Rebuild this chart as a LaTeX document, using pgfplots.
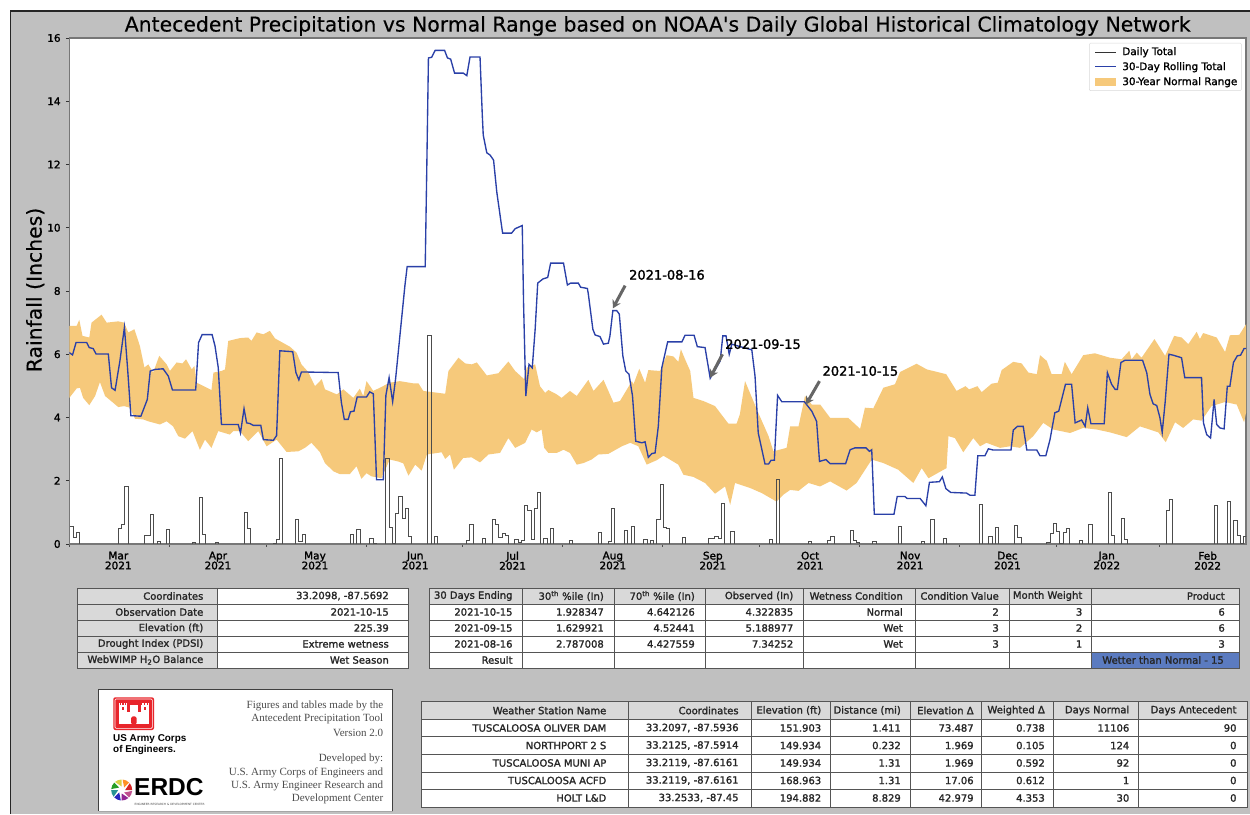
\documentclass[border=0pt]{standalone}
\usepackage{fontspec}
\usepackage{pgfplots}
\usepackage{pgfplotstable}
\pgfplotsset{compat=1.18}
\usetikzlibrary{arrows.meta}
\setmainfont{DejaVu Sans}
\newfontfamily\tf[FakeBold=1.6]{DejaVu Sans}
\newfontfamily\tits[FakeBold=0.3]{DejaVu Sans}
\newfontfamily\serif{Liberation Serif}
\newfontfamily\lib{Liberation Sans}
\definecolor{panel}{HTML}{C0C0C0}
\definecolor{band}{HTML}{F6C97B}
\definecolor{rollblue}{HTML}{2A40A8}
\definecolor{spine}{HTML}{777777}
\definecolor{hdr}{HTML}{D9D9D9}
\definecolor{grid}{HTML}{555555}
\definecolor{resultblue}{HTML}{5B7BC0}
\definecolor{usace}{HTML}{E8252B}

\pgfplotstableread{
d y
0 6.05
1.0 5.98
2.1 6.37
5.4 6.37
6.2 6.21
7.4 6.18
8.3 6.01
12.1 6.01
13.1 4.94
14.2 4.86
15.7 5.79
17.1 6.85
18.1 5.52
19.1 4.06
22.2 4.04
24.2 4.57
25.1 5.47
26.6 5.52
29.1 5.54
30.7 5.31
32.0 4.87
39.2 4.87
40.1 6.37
41.2 6.62
44.3 6.62
45.2 6.26
46.2 5.58
47.2 3.78
52.4 3.78
53.1 3.51
54.2 4.28
55.0 3.83
56.0 3.81
57.1 3.75
59.4 3.75
60.2 3.30
63.3 3.28
64.3 3.43
65.3 6.11
69.3 6.08
70.3 5.42
71.2 5.19
72.0 5.44
83.4 5.42
84.4 4.47
85.3 3.94
86.5 3.94
87.2 4.18
88.3 4.20
89.3 4.65
92.2 4.65
93.2 4.81
94.3 4.75
95.3 2.03
97.4 2.03
98.2 4.70
99.2 5.26
100.3 4.50
101.2 5.21
104.1 8.17
104.8 8.77
110.4 8.77
110.9 11.98
111.4 15.37
112.4 15.39
113.5 15.61
116.4 15.61
117.3 15.37
118.3 15.33
119.5 14.89
122.2 14.89
123.3 14.81
124.3 15.40
127.4 15.40
128.1 13.57
128.4 12.93
129.5 12.37
130.5 12.30
131.6 12.14
132.6 11.13
134.4 9.83
137.2 9.83
138.3 9.97
140.5 10.07
140.9 7.64
141.6 4.68
142.6 5.68
143.6 5.57
144.5 6.79
145.3 8.25
146.9 8.38
148.4 8.43
149.3 8.88
153.3 8.88
154.5 8.19
155.5 8.25
157.9 8.25
158.6 8.12
160.7 8.08
161.0 7.90
162.4 6.79
163.1 6.61
164.6 6.56
165.7 6.32
167.2 6.35
167.7 6.58
168.6 7.38
169.8 7.38
170.6 7.27
171.7 5.95
172.6 5.47
173.6 5.37
174.7 4.68
175.7 3.25
177.6 3.20
178.6 3.23
179.6 2.74
180.7 2.86
181.7 2.88
182.7 3.72
183.8 5.58
185.6 6.39
190.0 6.39
191.0 6.60
193.8 6.60
194.8 6.24
197.2 6.21
198.8 5.24
201.9 5.79
202.7 6.58
203.7 6.58
204.7 6.00
205.5 6.32
209.1 6.21
211.7 6.14
212.7 5.31
213.7 3.51
215.8 2.53
216.9 2.53
217.7 2.65
218.7 2.65
219.7 4.70
221.0 4.50
228.0 4.50
230.3 4.20
231.8 3.88
232.7 2.61
234.7 2.67
236.0 2.54
240.8 2.54
242.2 2.98
243.7 3.04
247.1 3.04
248.2 2.93
248.9 2.98
249.7 0.94
255.8 0.94
256.8 1.50
259.2 1.50
259.9 1.44
263.9 1.44
265.7 1.21
266.8 1.95
269.9 1.97
270.8 2.12
271.9 1.75
273.4 1.63
278.3 1.61
279.4 1.54
280.9 1.54
281.8 2.79
284.0 2.79
285.1 3.01
286.6 2.97
292.1 2.97
292.8 3.60
294.1 3.72
295.9 3.72
297.0 2.97
300.1 2.97
301.1 2.79
302.9 2.79
304.2 3.30
305.7 4.15
306.9 4.20
309.0 5.05
310.9 5.05
312.0 3.83
314.0 3.92
315.1 3.72
315.9 4.31
316.9 3.80
321.0 3.80
322.0 5.42
323.3 5.05
324.4 4.89
325.1 4.89
326.2 5.74
327.5 5.81
332.9 5.81
334.2 5.42
335.2 4.73
336.2 4.43
337.3 4.38
338.3 3.99
339.0 3.53
339.9 4.47
341.1 6.00
342.4 5.97
345.0 5.89
346.0 5.26
351.2 5.26
351.8 3.83
352.8 3.46
354.0 3.35
355.1 4.57
355.9 3.78
356.9 3.67
358.2 3.64
359.2 4.99
360.0 4.99
361.1 5.74
362.3 5.95
363.3 5.97
364.4 6.18
365 6.18
}\rollingtab

\pgfplotstableread{
d y
0 6.90
2.3 6.90
3.1 7.09
4.1 6.58
6.2 6.53
6.9 7.00
10 7.25
11.6 7.00
15.2 7.04
17 7.00
18.3 6.69
20.2 6.79
21.9 6.26
23.3 5.58
24.5 5.68
26 5.42
27.9 5.95
30.2 5.68
31.2 5.47
33.3 5.74
35.1 5.71
36.2 5.84
38 5.52
38.8 5.63
39.5 5.10
44.1 4.87
44.7 5.42
47.2 5.47
48.3 5.52
49.3 6.42
52.9 6.51
55.5 6.53
56.5 6.42
58.1 6.69
60.2 6.63
62.2 6.74
63.8 6.50
68.4 6.24
70.5 6.05
72 5.68
74.1 5.44
76.2 4.99
78.3 5.21
79.3 4.89
83 4.73
85 4.89
88.1 4.62
90.1 4.91
91.2 4.68
92.2 5.15
94.3 4.84
96.3 4.94
99.4 5.10
102.5 5.15
106.7 5.08
108.3 5.08
109.8 4.84
116.6 4.75
117.6 5.47
120.7 5.89
122.8 5.71
124.8 5.68
126.4 5.74
129.5 5.33
133.1 5.40
136.2 5.77
138.3 5.47
141.1 5.21
141.9 5.58
144.5 5.68
146 4.99
147.6 4.78
148.6 4.87
151.2 4.73
152.7 4.62
155.3 4.84
157.4 4.68
161 5.19
162.6 4.84
165.7 5.19
168.8 4.47
170.8 4.52
174.5 5.15
175 5.05
176.8 5.54
178.6 5.10
179.6 5.50
183.2 5.47
185.3 5.97
187.4 5.93
188.9 5.76
189.7 6.16
191 5.84
192.6 5.47
193.6 4.62
196.7 4.52
200.3 4.36
204.4 3.81
207 3.81
208 4.10
209.6 5.15
213.7 4.15
216.9 3.41
218.4 2.93
222.5 3.04
223.6 3.72
226.2 3.72
228.2 4.68
230.3 4.41
232.9 4.41
236 3.99
241.6 3.99
245.3 3.64
246.8 4.31
249.4 4.29
252.5 4.94
256.1 5.05
257.7 5.44
262.8 5.70
266 5.52
272 5.37
275.2 4.84
278 4.99
279.1 4.89
281.7 4.99
283 4.80
286.1 5.07
288 5.10
289.2 5.50
292.8 5.76
295.4 5.71
297.5 5.42
300.1 5.37
301.1 5.97
303.2 5.79
304.7 5.37
307.8 5.37
308.8 5.76
310.9 5.37
314.5 5.97
318.1 6.03
322.8 5.89
326.4 5.84
328.8 6.11
329.5 5.84
331.1 6.05
332.6 5.89
336.6 6.48
339.9 5.95
342.7 6.58
345 6.53
347.1 6.32
349.7 6.71
350.7 6.48
351.7 6.67
355.9 6.53
358.5 6.07
360 6.60
362.9 6.61
365 6.95
}\uppertab

\pgfplotstableread{
d y
0 4.62
2.3 4.92
3.3 4.94
4.3 4.62
6.2 4.39
8 4.68
9.5 5.12
11.1 4.68
15.2 4.33
17 4.36
18.8 4.31
20.4 3.96
22.9 3.94
24.5 3.88
28.1 3.78
30.2 3.88
32.2 3.72
33.8 3.41
35.9 3.33
38.2 3.57
40.5 2.98
42.1 3.30
44.1 3.04
46.2 3.57
49.8 3.46
50.9 3.57
52.9 3.57
55.5 3.25
58.6 3.57
61.2 3.09
64.3 3.30
67.4 2.91
71 2.93
73.1 3.04
75.1 3.20
77.7 2.91
79.3 2.56
81.9 2.30
83.9 2.21
87 2.21
89.1 2.46
90.6 2.06
92.2 2.24
93.7 2.14
96.8 2.08
99.4 2.67
102 2.61
103.6 2.55
105.2 2.16
107.3 2.51
109.3 2.32
110.9 2.83
115.5 2.90
116.6 2.69
118.1 2.83
119.3 2.35
122.2 2.72
124.8 2.74
127.4 2.58
130 2.83
133.6 2.88
136.2 3.35
138.3 3.04
141.4 3.20
143.4 3.62
145 3.53
146.5 3.62
147.3 3.04
148.6 2.88
151.2 2.88
153.3 2.98
155.3 2.88
157.4 2.51
159.5 2.56
162 2.67
164.1 2.83
167.2 2.85
171.4 3.09
174 3.20
176.5 3.09
179.1 2.51
182.2 2.65
184.3 2.79
186.3 2.67
188.9 2.51
190.5 2.19
193.6 2.12
197.2 1.93
200.3 1.59
203.4 1.82
205 1.24
206.5 1.93
211.2 1.77
214.8 1.61
219.4 1.34
221.5 1.56
223.6 1.71
226.2 1.68
229.3 1.93
232.85 1.82
236 1.98
241.1 1.69
244.2 1.93
248.9 2.67
252.5 2.56
257.1 2.35
261.8 1.93
264.4 2.40
266.5 2.08
272.1 2.40
272.7 3.41
274.7 3.35
277.3 2.90
280.4 3.35
282.5 3.09
284.5 3.20
288.7 3.04
291.8 3.09
294.9 3.04
299 3.41
302.1 3.83
305.2 3.62
310.4 3.51
314.5 3.67
318.7 3.62
322.8 3.53
328 3.38
332.1 3.72
337.8 3.53
340.1 3.22
343 3.85
345.5 3.67
348.6 3.94
351.2 3.90
354.3 4.36
358.5 4.49
362.1 4.41
364.4 3.85
365 4.15
}\lowertab

\pgfplotstablesort[sort key=d,sort cmp=float >]{\lowerrev}{\lowertab}
\pgfplotstablevertcat{\bandtab}{\uppertab}
\pgfplotstablevertcat{\bandtab}{\lowerrev}

\pgfplotstableread{
d y
0 .55
1 .21
2 .37
3 0
15 .5
16 .62
17 1.82
18 0
23 .26
25 .94
26 0
27 .07
28 0
30 .47
31 0
38 .05
39 0
40 1.48
41 .29
42 0
45 .04
46 0
54 1
55 .5
56 0
63 .02
64 .13
65 2.72
66 0
70 .79
71 .07
72 .29
73 0
87 .29
88 0
89 .47
90 0
93 .18
94 .02
95 0
98 2.72
99 .53
100 .02
101 .97
102 1.5
103 .81
104 1.13
105 .23
106 0
111 6.61
112 0
113 .23
114 0
123 .11
124 .62
125 0
128 .18
129 0
131 .79
132 .63
133 .2
134 .34
135 .26
136 0
138 .15
139 .05
140 .1
141 1.22
142 1.06
143 .13
144 1.13
145 1.64
146 0
147 .18
148 0
149 .5
150 0
155 .1
156 0
164 .36
165 0
167 .07
168 1.13
169 0
172 .44
173 0
174 .57
175 0
178 .15
179 0
180 .11
181 0
182 .79
183 1.89
184 .54
185 .48
186 0
190 .21
191 0
198 .18
199 .18
200 .25
201 .18
202 1.29
203 0
205 .39
206 0
217 .15
218 0
219 2.05
220 0
229 .07
230 0
235 .11
236 .23
237 0
242 .42
243 .11
244 .05
245 0
249 .07
250 0
257 .55
258 0
264 .07
265 0
267 .78
268 0
271 .19
272 0
282 1.24
283 0
285 .23
286 0
287 .53
288 0
293 .6
294 .21
295 0
303 .04
304 .32
305 .66
306 .39
307 .02
308 .37
309 .5
310 0
313 .11
314 0
316 .62
317 0
322 1.64
323 .26
324 0
326 .81
327 .13
328 0
340 1.06
341 1.41
342 0
355 1.22
356 0
359 1.34
360 0
361 .75
362 .26
363 .02
364 .23
365 .23
}\dailytab

% text helper: right-aligned at x, vertically centred at y (image pixels, y down)
\newcommand{\TT}[3]{\node[anchor=east,inner sep=0pt,font=\tf\fontsize{10}{12}\selectfont,text=black!85] at ({#1},{814-#2}) {#3};}
\newcommand{\Rct}[5]{\fill[#5] ({#1},{814-#2}) rectangle ({#3},{814-#4});}
\newcommand{\Outl}[4]{\draw[grid,line width=0.9pt] ({#1},{814-#2}) rectangle ({#3},{814-#4});}
\newcommand{\HLn}[3]{\draw[grid,line width=0.8pt] ({#1},{814-#3}) -- ({#2},{814-#3});}
\newcommand{\VLn}[3]{\draw[grid,line width=0.8pt] ({#1},{814-#2}) -- ({#1},{814-#3});}

\begin{document}
\begin{tikzpicture}
\useasboundingbox (0pt,0pt) rectangle (1250pt,814pt);
\fill[white] (0pt,0pt) rectangle (1250pt,814pt);
\fill[panel] (10pt,0pt) rectangle (1250pt,803pt);
\draw[black!85,line width=1.4pt] (10.5pt,0pt) -- (10.5pt,803pt) -- (1250pt,803pt);

\begin{axis}[
  at={(69.3pt,270pt)},anchor=south west,
  width=1176.7pt,height=506pt,scale only axis,
  xmin=0,xmax=365,ymin=0,ymax=16,
  axis background/.style={fill=white},
  axis line style={draw=spine,line width=1.1pt},
  xtick pos=bottom,ytick pos=left,tick align=outside,
  ytick={0,2,4,6,8,10,12,14,16},
  xtick={15.2,46.1,76.2,107.3,137.5,168.6,199.6,229.8,260.8,291,321.8,353.1},
  xticklabels={{Mar\\2021},{Apr\\2021},{May\\2021},{Jun\\2021},{Jul\\2021},{Aug\\2021},{Sep\\2021},{Oct\\2021},{Nov\\2021},{Dec\\2021},{Jan\\2022},{Feb\\2022}},
  minor xtick={0,31,61,92,122,153,184,214,245,276,306,338},
  major x tick style={draw=none},
  major y tick style={draw=black!80,line width=0.7pt},
  minor x tick style={draw=black!70,line width=0.6pt},
  major tick length=3.5pt,minor tick length=3pt,
  xticklabel style={align=center,font=\tf\fontsize{10.5}{10}\selectfont,inner sep=0pt,yshift=-4pt},
  yticklabel style={font=\tf\fontsize{10.5}{12}\selectfont,inner sep=0pt,xshift=-5pt},
  /pgf/number format/assume math mode=true,
  title={Antecedent Precipitation vs Normal Range based on NOAA's Daily Global Historical Climatology Network},
  title style={font=\tits\fontsize{20.4}{22}\selectfont,at={(0.5,1)},anchor=south,yshift=-7pt,inner sep=3pt},
  ylabel={Rainfall (Inches)},
  ylabel style={font=\tits\fontsize{20.4}{22}\selectfont,at={(axis description cs:-0.029,0.502)},anchor=center},
  legend style={at={(1,1)},anchor=north east,xshift=-4.5pt,yshift=-5pt,
    draw=black!15,fill=white,rounded corners=1pt,
    font=\tf\fontsize{10.4}{12}\selectfont,row sep=1.6pt,inner sep=2pt},
  legend cell align=left,
  legend image code/.code={\draw[#1] (0pt,0pt)--(21pt,0pt);},
]
\addplot[fill=band,draw=none,forget plot] table[x=d,y=y]{\bandtab} -- cycle;
\addplot[const plot mark left,black!70,line width=0.8pt,forget plot] table[x expr=\thisrow{d}+0.2,y=y]{\dailytab};
\addplot[rollblue,line width=1.35pt,forget plot] table[x=d,y=y]{\rollingtab};

\addlegendimage{black!80,line width=0.6pt}
\addlegendentry{Daily Total}
\addlegendimage{rollblue,line width=1.1pt}
\addlegendentry{30-Day Rolling Total}
\addlegendimage{band,line width=8pt}
\addlegendentry{30-Year Normal Range}

\draw[black!60,line width=3pt,-{Stealth[length=8pt,width=9pt]}] (axis cs:172.4,8.17) -- (axis cs:168.6,7.45);
\draw[black!60,line width=3pt,-{Stealth[length=8pt,width=9pt]}] (axis cs:202.6,6.00) -- (axis cs:198.8,5.26);
\draw[black!60,line width=3pt,-{Stealth[length=8pt,width=9pt]}] (axis cs:232.7,5.15) -- (axis cs:228.5,4.41);
\node[anchor=west,inner sep=0pt,font=\tf\fontsize{13}{15}\selectfont] at (axis cs:173.6,8.51) {2021-08-16};
\node[anchor=west,inner sep=0pt,font=\tf\fontsize{13}{15}\selectfont] at (axis cs:203.4,6.32) {2021-09-15};
\node[anchor=west,inner sep=0pt,font=\tf\fontsize{13}{15}\selectfont] at (axis cs:233.6,5.47) {2021-10-15};
\end{axis}

\begin{scope}[x=1pt,y=1pt]
% --- site table
\Rct{77}{588}{217}{668}{hdr}
\Rct{217}{588}{408}{668}{white}
\foreach \y in {604,620,636,652}{\HLn{77}{408}{\y}}
\VLn{217}{588}{668}
\Outl{77}{588}{408}{668}
\TT{203.5}{596}{Coordinates}\TT{389}{596}{33.2098, -87.5692}
\TT{203.5}{612}{Observation Date}\TT{389}{612}{2021-10-15}
\TT{203.5}{628}{Elevation (ft)}\TT{389}{628}{225.39}
\TT{203.5}{644}{Drought Index (PDSI)}\TT{389}{644}{Extreme wetness}
\TT{203.5}{660}{WebWIMP H\textsubscript{2}O Balance}\TT{389}{660}{Wet Season}

% --- condition table
\Rct{429}{588}{1239}{604}{hdr}
\Rct{429}{604}{1239}{668}{white}
\Rct{1091}{652}{1239}{668}{resultblue}
\foreach \y in {604,620,636,652}{\HLn{429}{1239}{\y}}
\foreach \x in {522,614,705.5,803,915,1009,1091}{\VLn{\x}{588}{668}}
\Outl{429}{588}{1239}{668}
\TT{512.7}{596}{30 Days Ending}\TT{604}{596}{30\textsuperscript{th} \%ile\,\,(In)}\TT{695}{596}{70\textsuperscript{th} \%ile\,\,(In)}\TT{793.5}{596}{Observed (In)}\TT{903}{596}{Wetness Condition}\TT{999}{596}{Condition Value}\TT{1082.5}{596}{Month Weight}\TT{1225}{596}{Product}
\TT{512.7}{612}{2021-10-15}\TT{604}{612}{1.928347}\TT{695}{612}{4.642126}\TT{793.5}{612}{4.322835}\TT{903}{612}{Normal}\TT{999}{612}{2}\TT{1082.5}{612}{3}\TT{1225}{612}{6}
\TT{512.7}{628}{2021-09-15}\TT{604}{628}{1.629921}\TT{695}{628}{4.52441}\TT{793.5}{628}{5.188977}\TT{903}{628}{Wet}\TT{999}{628}{3}\TT{1082.5}{628}{2}\TT{1225}{628}{6}
\TT{512.7}{644}{2021-08-16}\TT{604}{644}{2.787008}\TT{695}{644}{4.427559}\TT{793.5}{644}{7.34252}\TT{903}{644}{Wet}\TT{999}{644}{3}\TT{1082.5}{644}{1}\TT{1225}{644}{3}
\TT{512.7}{660}{Result}\TT{1224}{660}{Wetter than Normal - 15}

% --- station table
\Rct{421.6}{701.7}{1247}{719.3}{hdr}
\Rct{421.6}{719.3}{1247}{807.3}{white}
\foreach \y in {719.3,736.7,754.3,772,789.3}{\HLn{421.6}{1247}{\y}}
\foreach \x in {628,751.4,830,910,981.4,1053,1138.7}{\VLn{\x}{701.7}{807.3}}
\Outl{421.6}{701.7}{1247}{807.3}
\TT{606.5}{710.5}{Weather Station Name}\TT{738.8}{710.5}{Coordinates}\TT{821.4}{710.5}{Elevation (ft)}\TT{901}{710.5}{Distance (mi)}\TT{973.8}{710.5}{Elevation Δ}\TT{1045}{710.5}{Weighted Δ}\TT{1129.5}{710.5}{Days Normal}\TT{1236.7}{710.5}{Days Antecedent}
\TT{606.5}{728}{TUSCALOOSA OLIVER DAM}\TT{738.8}{728}{33.2097, -87.5936}\TT{821.4}{728}{151.903}\TT{901}{728}{1.411}\TT{973.8}{728}{73.487}\TT{1045}{728}{0.738}\TT{1129.5}{728}{11106}\TT{1236.7}{728}{90}
\TT{606.5}{745.5}{NORTHPORT 2 S}\TT{738.8}{745.5}{33.2125, -87.5914}\TT{821.4}{745.5}{149.934}\TT{901}{745.5}{0.232}\TT{973.8}{745.5}{1.969}\TT{1045}{745.5}{0.105}\TT{1129.5}{745.5}{124}\TT{1236.7}{745.5}{0}
\TT{606.5}{763}{TUSCALOOSA MUNI AP}\TT{738.8}{763}{33.2119, -87.6161}\TT{821.4}{763}{149.934}\TT{901}{763}{1.31}\TT{973.8}{763}{1.969}\TT{1045}{763}{0.592}\TT{1129.5}{763}{92}\TT{1236.7}{763}{0}
\TT{606.5}{780.5}{TUSCALOOSA ACFD}\TT{738.8}{780.5}{33.2119, -87.6161}\TT{821.4}{780.5}{168.963}\TT{901}{780.5}{1.31}\TT{973.8}{780.5}{17.06}\TT{1045}{780.5}{0.612}\TT{1129.5}{780.5}{1}\TT{1236.7}{780.5}{0}
\TT{606.5}{798}{HOLT L\&D}\TT{738.8}{798}{33.2533, -87.45}\TT{821.4}{798}{194.882}\TT{901}{798}{8.829}\TT{973.8}{798}{42.979}\TT{1045}{798}{4.353}\TT{1129.5}{798}{30}\TT{1236.7}{798}{0}

% --- credit box
\fill[white] (98.5,{814-811}) rectangle (392.5,{814-689.3});
\draw[black!75,line width=1.1pt] (98.5,{814-811}) -- (98.5,{814-689.3}) -- (392.5,{814-689.3}) -- (392.5,{814-811});
\draw[black!35,line width=1pt] (98.5,{814-811}) -- (392.5,{814-811});
\foreach \y/\s in {706/Figures and tables made by the,719.3/Antecedent Precipitation Tool,732.7/Version 2.0,759.3/Developed by:,772.7/U.S. Army Corps of Engineers and,786/U.S. Army Engineer Research and,799.3/Development Center}{
  \node[anchor=east,inner sep=0pt,text=black!70,font=\serif\fontsize{11}{13}\selectfont] at (383.4,{814-\y}) {\s};
}
% USACE castle
\fill[usace,rounded corners=2pt] (113.3,{814-730}) rectangle (154,{814-697.3});
\draw[white,line width=0.6pt,rounded corners=1pt] (115,{814-728.3}) rectangle (152.3,{814-699});
\fill[white] (119,{814-724}) rectangle (148.5,{814-712});
\fill[white] (119,{814-715}) rectangle (127,{814-703});
\fill[white] (140.5,{814-715}) rectangle (148.5,{814-703});
\fill[white] (130,{814-715}) rectangle (137.5,{814-705.5});
\foreach \xx in {119.6,122.4,125.2,130.6,133.4,136.2,141.1,143.9,146.7}{\fill[usace] (\xx,{814-705}) rectangle ++(1.2,1.7);}
\fill[usace,rounded corners=1.5pt] (131,{814-724.5}) rectangle (136.5,{814-716.5});
\fill[usace] (122,{814-710}) rectangle (124,{814-707});
\fill[usace] (143.5,{814-710}) rectangle (145.5,{814-707});
\node[anchor=west,inner sep=0pt,font=\lib\bfseries\fontsize{9.9}{11}\selectfont] at (113,{814-739.5}) {US Army Corps};
\node[anchor=west,inner sep=0pt,font=\lib\bfseries\fontsize{9.9}{11}\selectfont] at (113,{814-750}) {of Engineers.};
% ERDC mark
\foreach \a/\c in {0/red!80!black,45/orange,90/yellow!80!black,135/green!55!black,180/teal,225/blue!70!black,270/violet,315/magenta!70!black}{
  \fill[\c!85!white] (121.7,{814-790}) ++(\a:3.5) -- ++(\a:7) arc[start angle=\a,end angle=\a+40,radius=10.5] -- cycle;
}
\node[anchor=west,inner sep=0pt,font=\lib\bfseries\fontsize{24.5}{26}\selectfont] at (134,{814-787.5}) {ERDC};
\node[anchor=west,inner sep=0pt,font=\fontsize{2.9}{3}\selectfont,text=black!70] at (134.5,{814-804}) {ENGINEER RESEARCH \& DEVELOPMENT CENTER};
\end{scope}
\end{tikzpicture}
\end{document}
